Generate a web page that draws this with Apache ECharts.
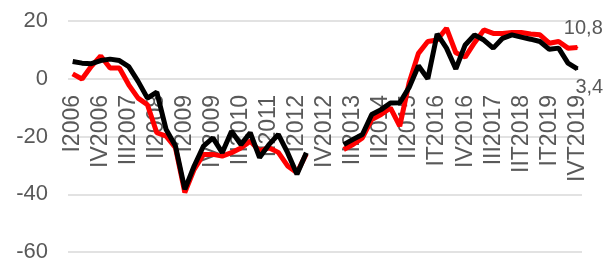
<!DOCTYPE html>
<html>
<head>
<meta charset="utf-8">
<script src="https://cdn.jsdelivr.net/npm/echarts@6/dist/echarts.min.js"></script>
<style>html,body{margin:0;padding:0;background:#fff}#c{width:607px;height:263px}</style>
</head>
<body>
<div id="c"></div>
<script>
var categories = [
  'I2006','II2006','III2006','IV2006',
  'I2007','II2007','III2007','IV2007',
  'I2008','II2008','III2008','IV2008',
  'I2009','II2009','III2009','IV2009',
  'I2010','II2010','III2010','IV2010',
  'I2011','II2011','III2011','IV2011',
  'I2012','II2012','III2012','IV2012',
  'I2013','II2013','III2013','IV2013',
  'I2014','II2014','III2014','IV2014',
  'II2015','III2015','IV2015',
  'IT2016','IIT2016','IIIT2016','IV2016',
  'IT2017','IIT2017','III2017','IVT2017',
  'IT2018','IIT2018','IIIT2018','IVT2018',
  'IT2019','IIT2019','IIIT2019','IVT2019'
];
var redSeries = [
  1.7,-0.1,4.3,7.9,
  3.7,3.7,-2.1,-6.7,
  -9,-18.7,-19.9,-23.9,
  -39.4,-31.4,-26.2,-26.2,
  -26.8,-25.6,-24,-21.6,
  -25,-23.9,-25.5,-30.2,
  -32.5,-26,null,null,
  null,-24.5,-22.8,-20.5,
  -14.1,-12.4,-10.1,-16.4,
  -1.4,8.8,12.9,
  13.4,17.5,9,7.5,
  12.5,16.9,15.7,15.7,
  16,16,15.5,15.2,
  12.3,12.9,10.6,10.8
];
var blackSeries = [
  6.0,5.4,5.2,6.3,
  6.8,6.3,4.2,-0.9,
  -6.7,-4.6,-17.6,-23.3,
  -38.3,-30.2,-23.3,-20.5,
  -25.6,-18.2,-22.8,-18.7,
  -27.3,-22.8,-19.3,-25.6,
  -33.1,-25.6,null,null,
  null,-22.8,-21,-19.3,
  -12.4,-10.7,-8.4,-8.3,
  -3,4.5,0,
  15.5,10.6,3.4,11.7,
  15.2,13.4,10.6,14,
  15.2,14.4,13.7,12.9,
  10.2,10.6,5.4,3.4
];
var yTicks = { min: -60, max: 20, interval: 20 };

var font = 'Liberation Sans, Arial, sans-serif';
var grey = '#595959';
var last = categories.length - 1;

function withEndLabel(arr, color, pos, offset) {
  return arr.map(function (v, i) {
    if (i === last) {
      return { value: v, symbol: 'circle', symbolSize: 2, itemStyle: { color: color },
        label: { show: true, position: pos, distance: 8, offset: offset,
        formatter: function (p) { return String(p.value).replace('.', ','); },
        color: grey, fontSize: 20, fontFamily: font } };
    }
    return { value: v, symbol: 'none' };
  });
}

var chart = echarts.init(document.getElementById('c'), null, { renderer: 'canvas' });
var gridTop = 21, gridBottom = 10, H = 263;
var plotH = H - gridTop - gridBottom;
var zeroFromBottom = plotH * (0 - yTicks.min) / (yTicks.max - yTicks.min);
chart.setOption({
  animation: false,
  grid: { left: 68, right: 25, top: gridTop, bottom: gridBottom, containLabel: false },
  xAxis: {
    type: 'category',
    data: categories,
    boundaryGap: true,
    position: 'bottom',
    offset: -zeroFromBottom,
    axisLine: { show: false, onZero: false },
    axisTick: { show: false },
    axisLabel: { show: true, interval: 2, rotate: 90, margin: 17, color: grey, fontSize: 23, fontFamily: font, hideOverlap: false },
    splitLine: { show: false }
  },
  yAxis: {
    type: 'value',
    min: yTicks.min, max: yTicks.max, interval: yTicks.interval,
    axisLine: { show: false },
    axisTick: { show: false },
    axisLabel: { margin: 20, color: grey, fontSize: 22, fontFamily: font },
    splitLine: { show: true, lineStyle: { color: '#d9d9d9', width: 1.5 } }
  },
  series: [
    { type: 'line', data: withEndLabel(redSeries, '#ff0000', 'top', [6, 0]), connectNulls: false,
      showSymbol: true, lineStyle: { color: '#ff0000', width: 5 }, itemStyle: { color: '#ff0000' }, z: 2 },
    { type: 'line', data: withEndLabel(blackSeries, '#000000', 'bottom', [12, 0]), connectNulls: false,
      showSymbol: true, lineStyle: { color: '#000000', width: 5 }, itemStyle: { color: '#000000' }, z: 3 }
  ]
});
</script>
</body>
</html>
